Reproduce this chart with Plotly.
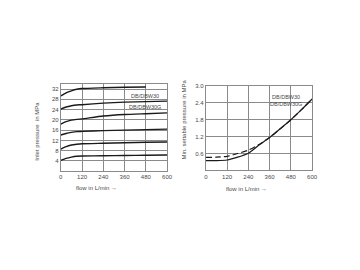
import plotly.graph_objects as go

# ---- data: left chart (inlet pressure vs flow) ----
flow_l = [0, 30, 60, 90, 120, 240, 360, 480, 600]
p_32 = [29.3, 30.5, 31.3, 31.9, 32.2, 32.5, 32.7, 32.8, None]
p_28 = [24.2, 25.0, 25.5, 25.8, 25.9, 26.5, 26.9, 27.1, 27.3]
p_20 = [18.3, 19.3, 19.9, 20.2, 20.4, 21.5, 22.1, 22.4, 22.7]
p_16 = [14.1, 14.7, 15.1, 15.4, 15.5, 15.8, 16.0, 16.2, 16.4]
p_12 = [8.6, 9.6, 10.2, 10.5, 10.7, 10.9, 11.1, 11.3, 11.4]
p_4 = [4.2, 5.0, 5.5, 5.8, 5.9, 6.0, 6.1, 6.2, 6.3]
left_curves = [p_32, p_28, p_20, p_16, p_12, p_4]

# ---- data: right chart (min settable pressure vs flow) ----
flow_r = [0, 60, 120, 180, 240, 300, 360, 420, 480, 540, 600]
p_min_solid = [0.35, 0.35, 0.37, 0.47, 0.61, 0.90, 1.17, 1.48, 1.80, 2.16, 2.54]
p_min_dashed = [0.46, 0.47, 0.50, 0.60, 0.72, 0.92, 1.17, 1.48, 1.80, 2.16, 2.54]

x_ticks = [0, 120, 240, 360, 480, 600]
left_y_ticks = [4, 8, 12, 16, 20, 24, 28, 32]
right_y_ticks = [0.6, 1.2, 1.8, 2.4, 3.0]
right_y_labels = ["0.6", "1.2", "1.8", "2.4", "3.0"]
label_a = "DB/DBW30"
label_b = "DB/DBW30G"
left_ytitle = "Inlet pressure  in MPa"
right_ytitle = "Min. settable pressure in MPa"
xtitle = "flow in L/min \u2192"

FONT = "Liberation Sans, Arial, sans-serif"
TXT = "#4a4a4a"
GRID = "#8a8a8a"

fig = go.Figure()
for c in left_curves:
    fig.add_trace(go.Scatter(x=flow_l, y=c, mode="lines", xaxis="x", yaxis="y",
                             line=dict(color="#1a1a1a", width=1.4, shape="spline", smoothing=0.6),
                             showlegend=False, connectgaps=False))

fig.add_trace(go.Scatter(x=flow_r, y=p_min_solid, mode="lines", xaxis="x2", yaxis="y2",
                         line=dict(color="#1a1a1a", width=1.2, shape="spline", smoothing=0.6),
                         showlegend=False))
fig.add_trace(go.Scatter(x=flow_r, y=p_min_dashed, mode="lines", xaxis="x2", yaxis="y2",
                         line=dict(color="#1a1a1a", width=1.2, dash="6px,3px", shape="spline", smoothing=0.6),
                         showlegend=False))

axcommon = dict(showline=True, linecolor=GRID, linewidth=1, mirror=True,
                showgrid=True, gridcolor=GRID, gridwidth=1, zeroline=False,
                ticks="", tickfont=dict(family=FONT, size=6, color=TXT))

fig.update_layout(
    width=360, height=270,
    margin=dict(l=0, r=0, t=0, b=0),
    paper_bgcolor="white", plot_bgcolor="white",
    xaxis=dict(domain=[0.167, 0.469], range=[0, 600], tickvals=x_ticks,
               anchor="y", **axcommon),
    yaxis=dict(domain=[0.37, 0.697], range=[0, 34], tickvals=left_y_ticks,
               anchor="x", **axcommon),
    xaxis2=dict(domain=[0.579, 0.881], range=[0, 600], tickvals=x_ticks,
                anchor="y2", **axcommon),
    yaxis2=dict(domain=[0.373, 0.689], range=[0, 3.0], tickvals=right_y_ticks,
                ticktext=right_y_labels, anchor="x2", **axcommon),
)

tf = dict(family=FONT, size=6, color=TXT)
ann = []
ann.append(dict(text=left_ytitle, xref="paper", yref="paper", x=35/360, y=1-130/270,
                xanchor="center", yanchor="middle",
                textangle=-90, showarrow=False, font=tf))
ann.append(dict(text=right_ytitle, xref="paper", yref="paper", x=186/360, y=1-118/270,
                xanchor="center", yanchor="middle",
                textangle=-90, showarrow=False, font=tf))
ann.append(dict(text=xtitle, xref="paper", yref="paper", x=97/360, y=1-187/270,
                xanchor="center", yanchor="middle", showarrow=False, font=tf))
ann.append(dict(text=xtitle, xref="paper", yref="paper", x=250/360, y=1-188/270,
                xanchor="center", yanchor="middle", showarrow=False, font=tf))
for xr, yr, xv, y1, y2 in [("x", "y", 475, 29.2, 25.0), ("x2", "y2", 450, 2.62, 2.35)]:
    ann.append(dict(text=label_a, xref=xr, yref=yr, x=xv, y=y1, showarrow=False,
                    xanchor="center", yanchor="middle",
                    font=dict(family=FONT, size=5.5, color=TXT)))
    ann.append(dict(text=label_b, xref=xr, yref=yr, x=xv, y=y2, showarrow=False,
                    xanchor="center", yanchor="middle",
                    font=dict(family=FONT, size=5.5, color=TXT)))
fig.update_layout(annotations=ann)

fig.write_html("out.html")
